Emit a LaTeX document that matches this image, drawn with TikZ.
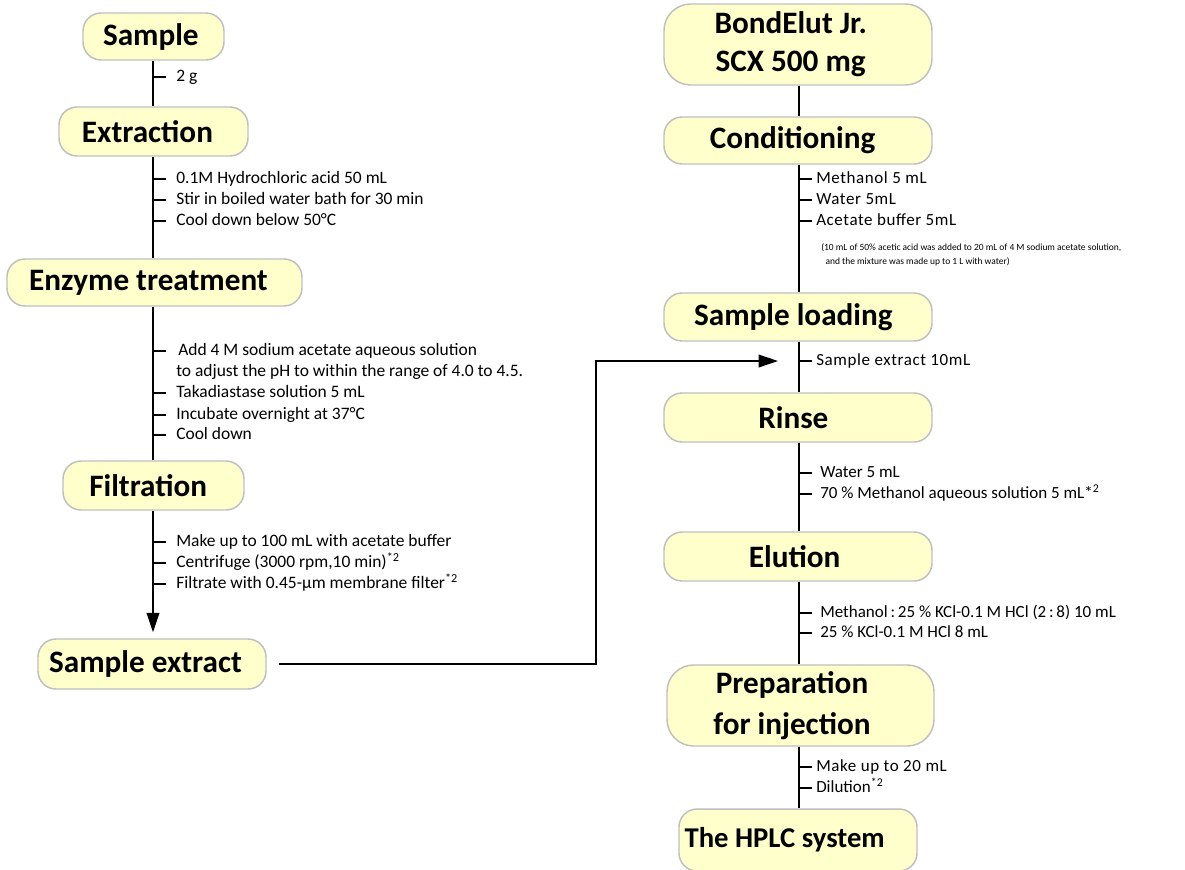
\documentclass[tikz,border=0pt]{standalone}
\usepackage{fontspec}
\setmainfont{Carlito}
\usetikzlibrary{arrows.meta}
\definecolor{boxfill}{HTML}{FFFFCC}
\definecolor{boxline}{HTML}{BFBFBF}
\newfontfamily\spacedfont[LetterSpace=3.5]{Carlito}
\newcommand\trsp[1]{\rule{#1}{0pt}}
\begin{document}
\begin{tikzpicture}[x=0.75pt,y=-0.75pt,
  stepbox/.style={draw=boxline, line width=1.1pt, fill=boxfill, rounded corners=13.5pt,
     inner sep=0pt, align=center, font=\bfseries\fontsize{23.4}{28.5}\selectfont},
  bigbox/.style={stepbox, rounded corners=20pt},
  lbl/.style={anchor=west, inner sep=0pt, text height=1.38ex, text depth=0pt,
     font=\fontsize{12.75}{15.75}\selectfont},
  llbl/.style={lbl, font=\fontsize{13.1}{15.75}\selectfont},
  slbl/.style={lbl, font=\spacedfont\fontsize{12.75}{15.75}\selectfont},
  note/.style={anchor=north west, inner sep=0pt, align=left,
     font=\fontsize{7.1}{10.5}\selectfont},
  conn/.style={line width=1.1pt, black},
  arr/.style={conn, -{Triangle[length=14.5pt,width=9.5pt]}},
  tick/.style={line width=0.9pt, black}
]
\useasboundingbox (0,0) rectangle (1185,869);

% ---------- left column ----------
\node[stepbox, minimum width=105.75pt, minimum height=35.25pt] (sample) at (153.5,36.5) {Sample\trsp{4pt}};
\node[stepbox, minimum width=141.75pt, minimum height=36.75pt] (extraction) at (153.5,131.5) {Extraction\trsp{9pt}};
\node[stepbox, minimum width=221.25pt, minimum height=35.25pt] (enzyme) at (154.5,282.5) {Enzyme treatment\trsp{9pt}};
\node[stepbox, minimum width=135.75pt, minimum height=36.75pt] (filtration) at (153.5,485.5) {Filtration\trsp{8pt}};
\node[stepbox, minimum width=171pt, minimum height=37.5pt] (sampleext) at (152,664) {Sample extract\trsp{9.75pt}};

\draw[conn] (sample.south -| 153,0) -- (extraction.north -| 153,0);
\draw[conn] (extraction.south -| 153,0) -- (enzyme.north -| 153,0);
\draw[conn] (enzyme.south -| 153,0) -- (filtration.north -| 153,0);
\draw[arr, shorten >=4.5pt] (filtration.south -| 153,0) -- (sampleext.north -| 153,0);

% ticks and labels, left
\foreach \y in {77,179,200,221,351,393,415,435,542,563,584}
  \draw[tick] (153,\y) -- (166,\y);
\node[llbl] (t1) at (176,77) {2 g};
\node[llbl] (t2) at (176,179) {0.1M Hydrochloric acid 50 mL};
\node[llbl] (t3) at (176,200) {Stir in boiled water bath for 30 min};
\node[llbl] (t4) at (176,221) {Cool down below 50°C};
\node[llbl] (t5) at (178,351) {Add 4 M sodium acetate aqueous solution};
\node[llbl] (t6) at (176,372) {to adjust the pH to within the range of 4.0 to 4.5.};
\node[llbl] (t7) at (176,393) {Takadiastase solution 5 mL};
\node[llbl] (t8) at (176,415) {Incubate overnight at 37°C};
\node[llbl] (t9) at (176,435) {Cool down};
\node[llbl] (t10) at (176,542) {Make up to 100 mL with acetate buffer};
\node[llbl] (t11) at (176,563) {Centrifuge (3000 rpm,10 min)\textsuperscript{*2}};
\node[llbl] (t12) at (176,584) {Filtrate with 0.45-µm membrane filter\textsuperscript{*2}};

% ---------- right column ----------
\node[bigbox, minimum width=201pt, minimum height=60.75pt] (bond) at (798,44.5) {BondElut Jr.\trsp{11pt}\\SCX 500 mg\trsp{11pt}};
\node[stepbox, minimum width=201pt, minimum height=35.25pt] (cond) at (798,140.5) {Conditioning\trsp{8pt}};
\node[stepbox, minimum width=201pt, minimum height=36pt] (load) at (798,317) {Sample loading\trsp{7pt}};
\node[stepbox, minimum width=201pt, minimum height=36.75pt] (rinse) at (798,417.5) {Rinse\trsp{7pt}};
\node[stepbox, minimum width=201pt, minimum height=36.75pt] (elution) at (798,556.5) {Elution\trsp{5pt}};
\node[bigbox, minimum width=200.25pt, minimum height=60.75pt,
      font=\bfseries\fontsize{23.4}{30.75}\selectfont] (prep) at (800.5,705.5) {Preparation\trsp{12.75pt}\\for injection\trsp{12.75pt}};
\node[stepbox, minimum width=178.5pt, minimum height=46.5pt,
      font=\bfseries\fontsize{21.5}{26}\selectfont] (hplc) at (798,840) {The HPLC system\trsp{20pt}};

\draw[conn] (bond.south -| 799,0) -- (cond.north -| 799,0);
\draw[conn] (cond.south -| 799,0) -- (load.north -| 799,0);
\draw[conn] (load.south -| 799,0) -- (rinse.north -| 799,0);
\draw[conn] (rinse.south -| 799,0) -- (elution.north -| 799,0);
\draw[conn] (elution.south -| 799,0) -- (prep.north -| 799,0);
\draw[conn] (prep.south -| 799,0) -- (hplc.north -| 799,0);

\foreach \y in {179,200,221,361,473,494,613,633,767,788}
  \draw[tick] (799,\y) -- (812,\y);
\node[slbl] (r1) at (816,179) {Methanol 5 mL};
\node[slbl] (r2) at (816,200) {Water 5mL};
\node[slbl] (r3) at (816,221) {Acetate buffer 5mL};
\node[note] (rnote) at (821,243) {(10 mL of 50\% acetic acid was added to 20 mL of 4 M sodium acetate solution,\\\ \ and the mixture was made up to 1 L with water)};
\node[slbl] (r4) at (816,361) {Sample extract 10mL};
\node[lbl] (r5) at (820,473) {Water 5 mL};
\node[lbl] (r6) at (820,494) {70 \% Methanol aqueous solution 5 mL*\textsuperscript{2}};
\node[lbl] (r7) at (820,613) {Methanol\,:\,25 \% KCl-0.1 M HCl (2\,:\,8) 10 mL};
\node[lbl] (r8) at (820,633) {25 \% KCl-0.1 M HCl 8 mL};
\node[slbl] (r9) at (816,767) {Make up to 20 mL};
\node[lbl] (r10) at (816,788) {Dilution\textsuperscript{*2}};

% ---------- cross connector ----------
\coordinate (c1) at (596,662);
\coordinate (inpt) at (778,361);
\draw[arr, shorten <=9pt] (sampleext.east) -- (sampleext.east -| c1) -- (c1 |- inpt) -- (inpt);
\end{tikzpicture}
\end{document}
